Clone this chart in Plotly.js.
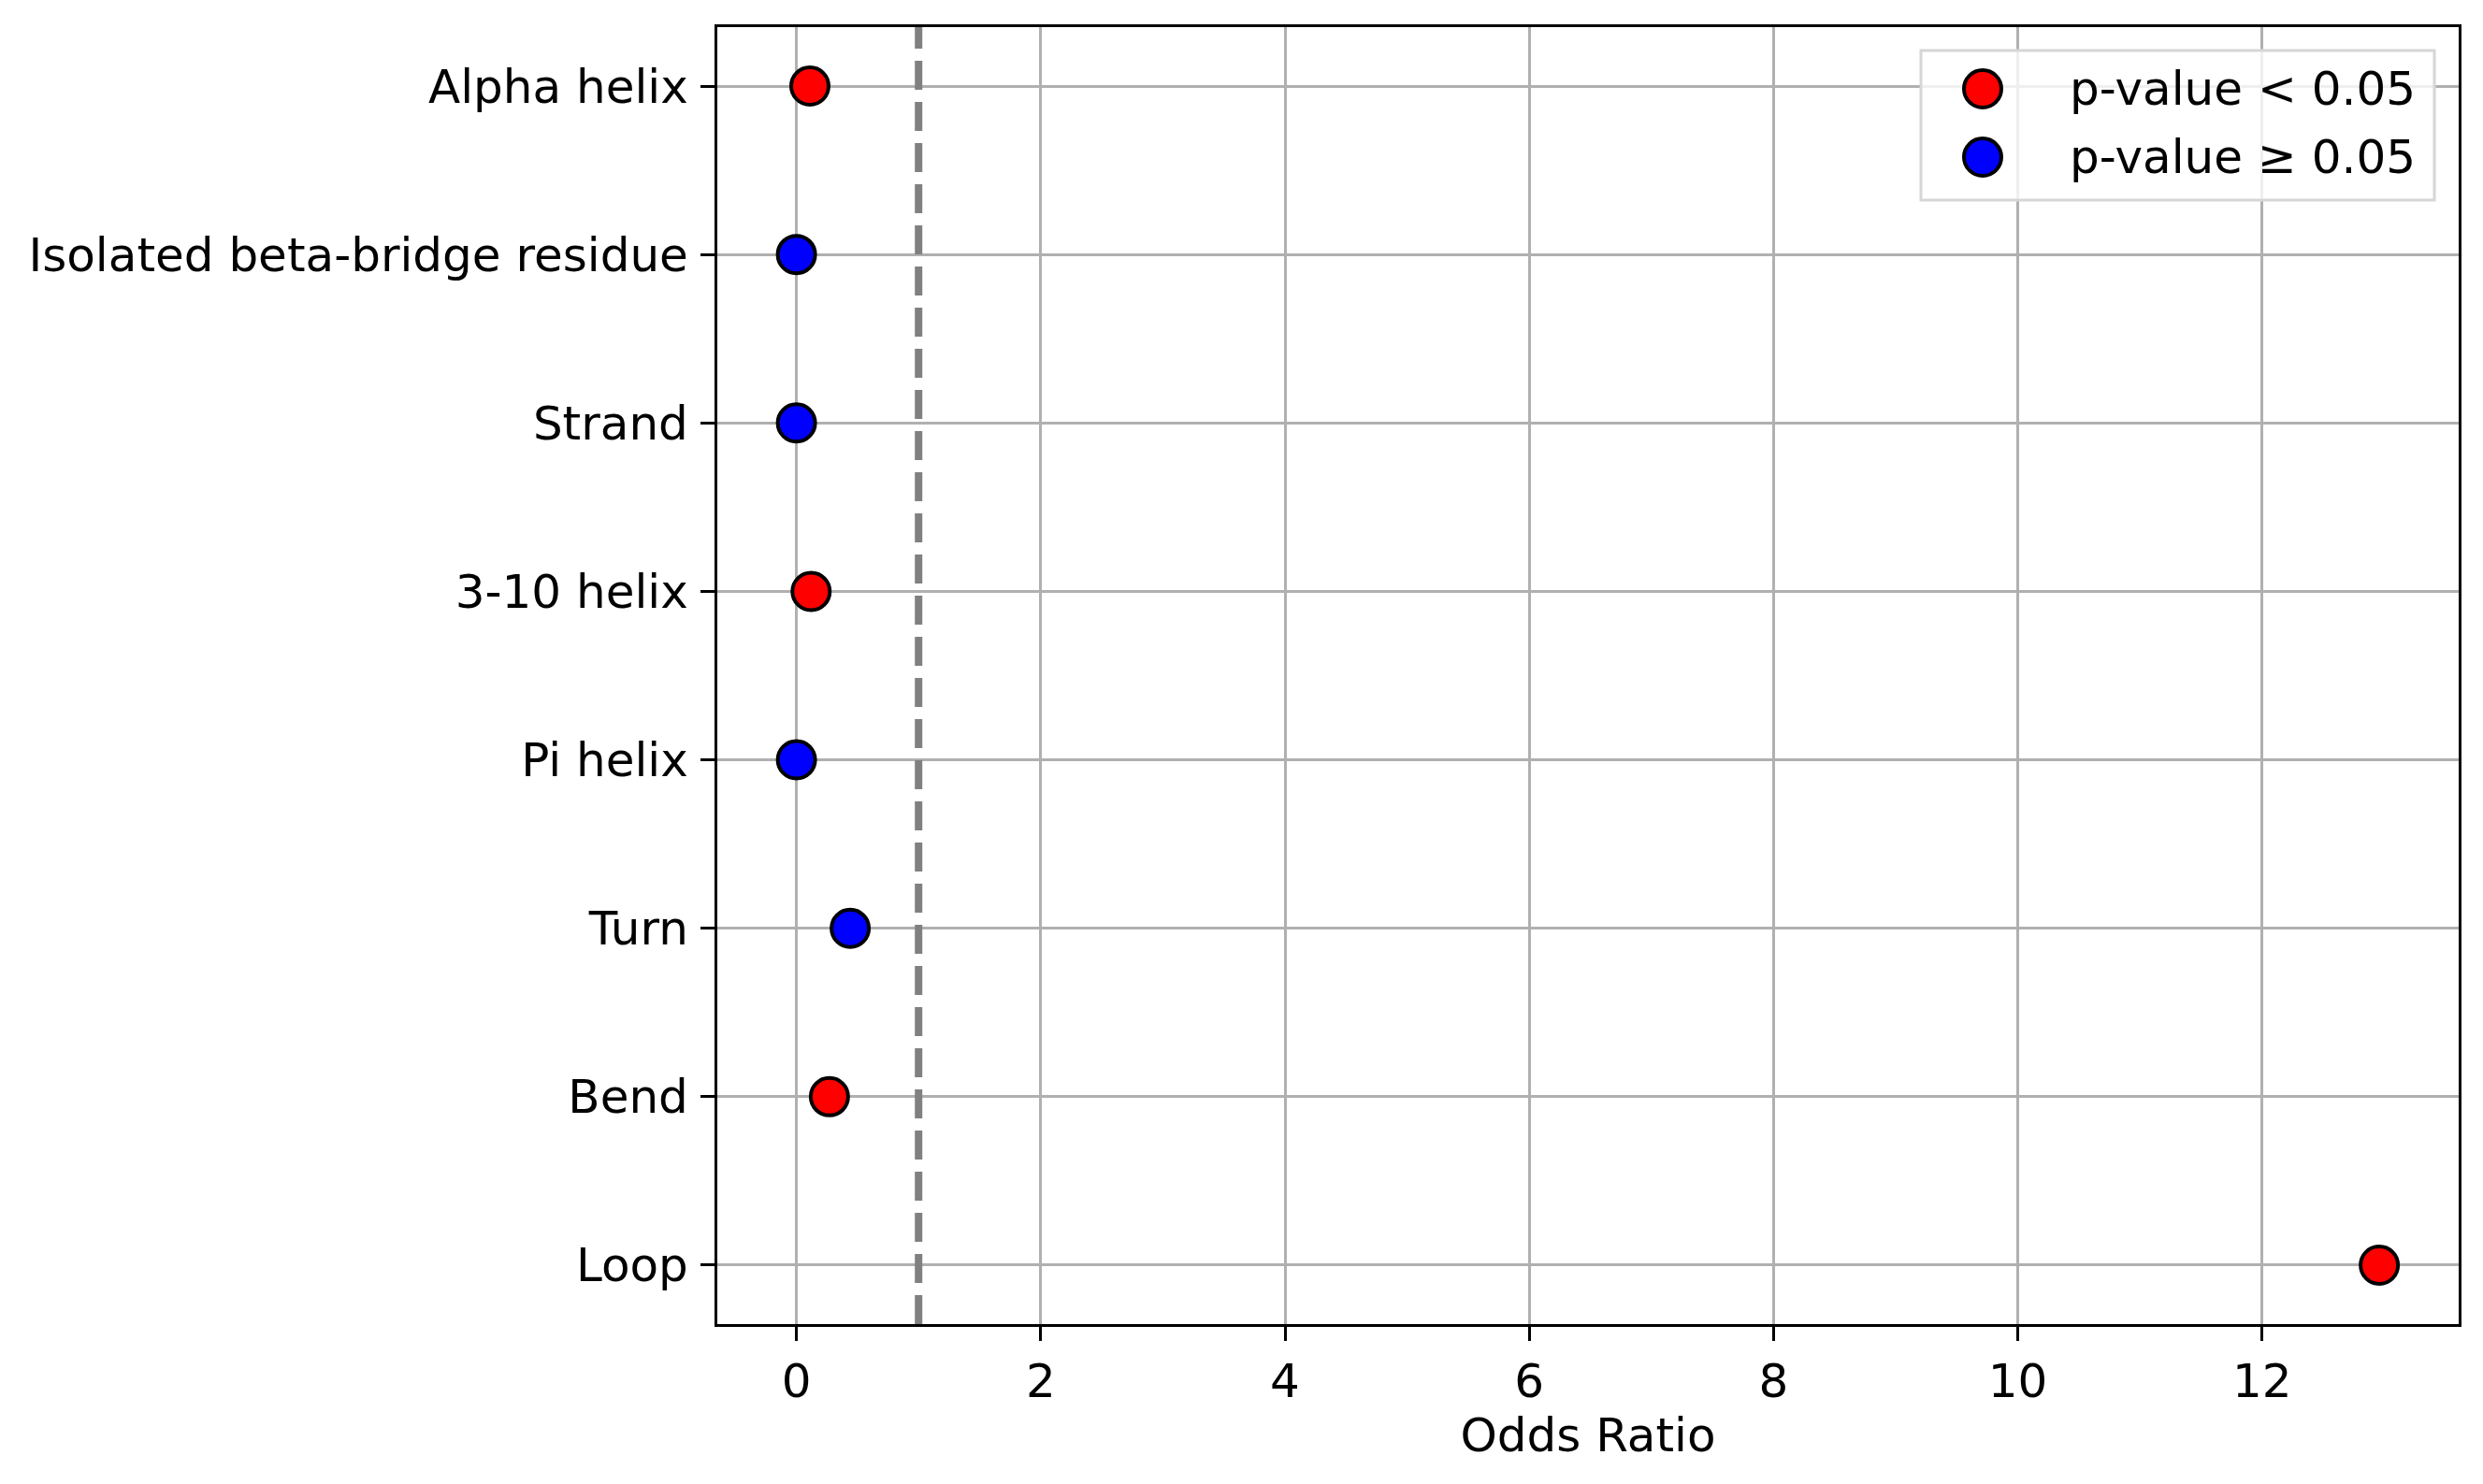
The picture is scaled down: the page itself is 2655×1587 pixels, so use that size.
<!DOCTYPE html>
<html>
<head>
<meta charset="utf-8">
<script src="https://cdn.plot.ly/plotly-3.0.1.min.js"></script>
<style>
    html, body { margin: 0; padding: 0; background: #fff; }
    #chart { width: 2655px; height: 1587px; }
</style>
</head>
<body>
<div id="chart"></div>
<script>
// Secondary structure categories, top to bottom as drawn
const categories = [
    'Alpha helix',
    'Isolated beta-bridge residue',
    'Strand',
    '3-10 helix',
    'Pi helix',
    'Turn',
    'Bend',
    'Loop'
];
const oddsRatio = [0.11, 0.0, 0.0, 0.12, 0.0, 0.44, 0.27, 12.96];
const significant = [true, false, false, true, false, false, true, true];
const xTicks = [0, 2, 4, 6, 8, 10, 12];

const FONT = 'DejaVu Sans, sans-serif';
const SPINE = 3.3;

function pick(flag) {
    const idx = categories.map((_, i) => i).filter(i => significant[i] === flag);
    return {
        x: idx.map(i => oddsRatio[i]),
        y: idx.map(i => categories[i])
    };
}

function pointTrace(flag, color, name) {
    const d = pick(flag);
    return {
        type: 'scatter',
        mode: 'markers',
        name: name,
        x: d.x,
        y: d.y,
        marker: { size: 40, color: color, line: { color: '#000', width: 4 } },
        showlegend: false,
        cliponaxis: false
    };
}

const traces = [
    pointTrace(true, '#ff0000', 'p-value < 0.05'),
    pointTrace(false, '#0000ff', 'p-value ≥ 0.05')
];

// hand-drawn legend box in the top right corner (pixel offsets from plot corner)
const legendRows = [
    { label: 'p-value < 0.05', color: '#ff0000', dy: -66 },
    { label: 'p-value ≥ 0.05', color: '#0000ff', dy: -139 }
];

const shapes = [
    {
        type: 'line', xref: 'x', yref: 'paper', x0: 1, x1: 1, y0: 0, y1: 1,
        line: { color: '#808080', width: 8, dash: '31px,13px' }, layer: 'above'
    },
    {
        type: 'rect', xref: 'paper', yref: 'paper', xanchor: 1, yanchor: 1,
        xsizemode: 'pixel', ysizemode: 'pixel',
        x0: -575, x1: -26, y0: -25, y1: -185,
        fillcolor: 'rgba(255,255,255,0.8)', line: { color: '#d6d6d6', width: 3 }, layer: 'above'
    }
];
legendRows.forEach(r => {
    shapes.push({
        type: 'circle', xref: 'paper', yref: 'paper', xanchor: 1, yanchor: 1,
        xsizemode: 'pixel', ysizemode: 'pixel',
        x0: -529, x1: -489, y0: r.dy + 20, y1: r.dy - 20,
        fillcolor: r.color, line: { color: '#000', width: 4 }, layer: 'above'
    });
});

const annotations = legendRows.map(r => ({
    xref: 'paper', yref: 'paper', x: 1, y: 1,
    xanchor: 'left', yanchor: 'middle',
    xshift: -418, yshift: r.dy,
    text: r.label, showarrow: false,
    font: { family: FONT, size: 50, color: '#000' }
}));

const layout = {
    width: 2655,
    height: 1587,
    paper_bgcolor: '#fff',
    plot_bgcolor: '#fff',
    font: { family: FONT, size: 50, color: '#000' },
    margin: { l: 767, r: 26, t: 29, b: 171, pad: 0 },
    showlegend: false,
    xaxis: {
        range: [-0.648, 13.61],
        tickvals: xTicks,
        ticktext: xTicks.map(String),
        ticks: 'outside', ticklen: 15, tickwidth: SPINE, tickcolor: '#000',
        ticklabelstandoff: 0,
        showline: true, mirror: true, linecolor: '#000', linewidth: SPINE,
        showgrid: true, gridcolor: '#b0b0b0', gridwidth: 3,
        zeroline: false,
        layer: 'above traces',
        tickfont: { family: FONT, size: 50 },
        title: { text: 'Odds Ratio', font: { family: FONT, size: 50 }, standoff: 4 }
    },
    yaxis: {
        type: 'category',
        categoryorder: 'array',
        categoryarray: categories,
        range: [7.35, -0.35],
        ticks: 'outside', ticklen: 15, tickwidth: SPINE, tickcolor: '#000',
        ticklabelstandoff: 3,
        showline: true, mirror: true, linecolor: '#000', linewidth: SPINE,
        showgrid: true, gridcolor: '#b0b0b0', gridwidth: 3,
        zeroline: false,
        layer: 'above traces',
        tickfont: { family: FONT, size: 50 }
    },
    shapes: shapes,
    annotations: annotations
};

Plotly.newPlot('chart', traces, layout, { displayModeBar: false, responsive: false });
</script>
</body>
</html>
